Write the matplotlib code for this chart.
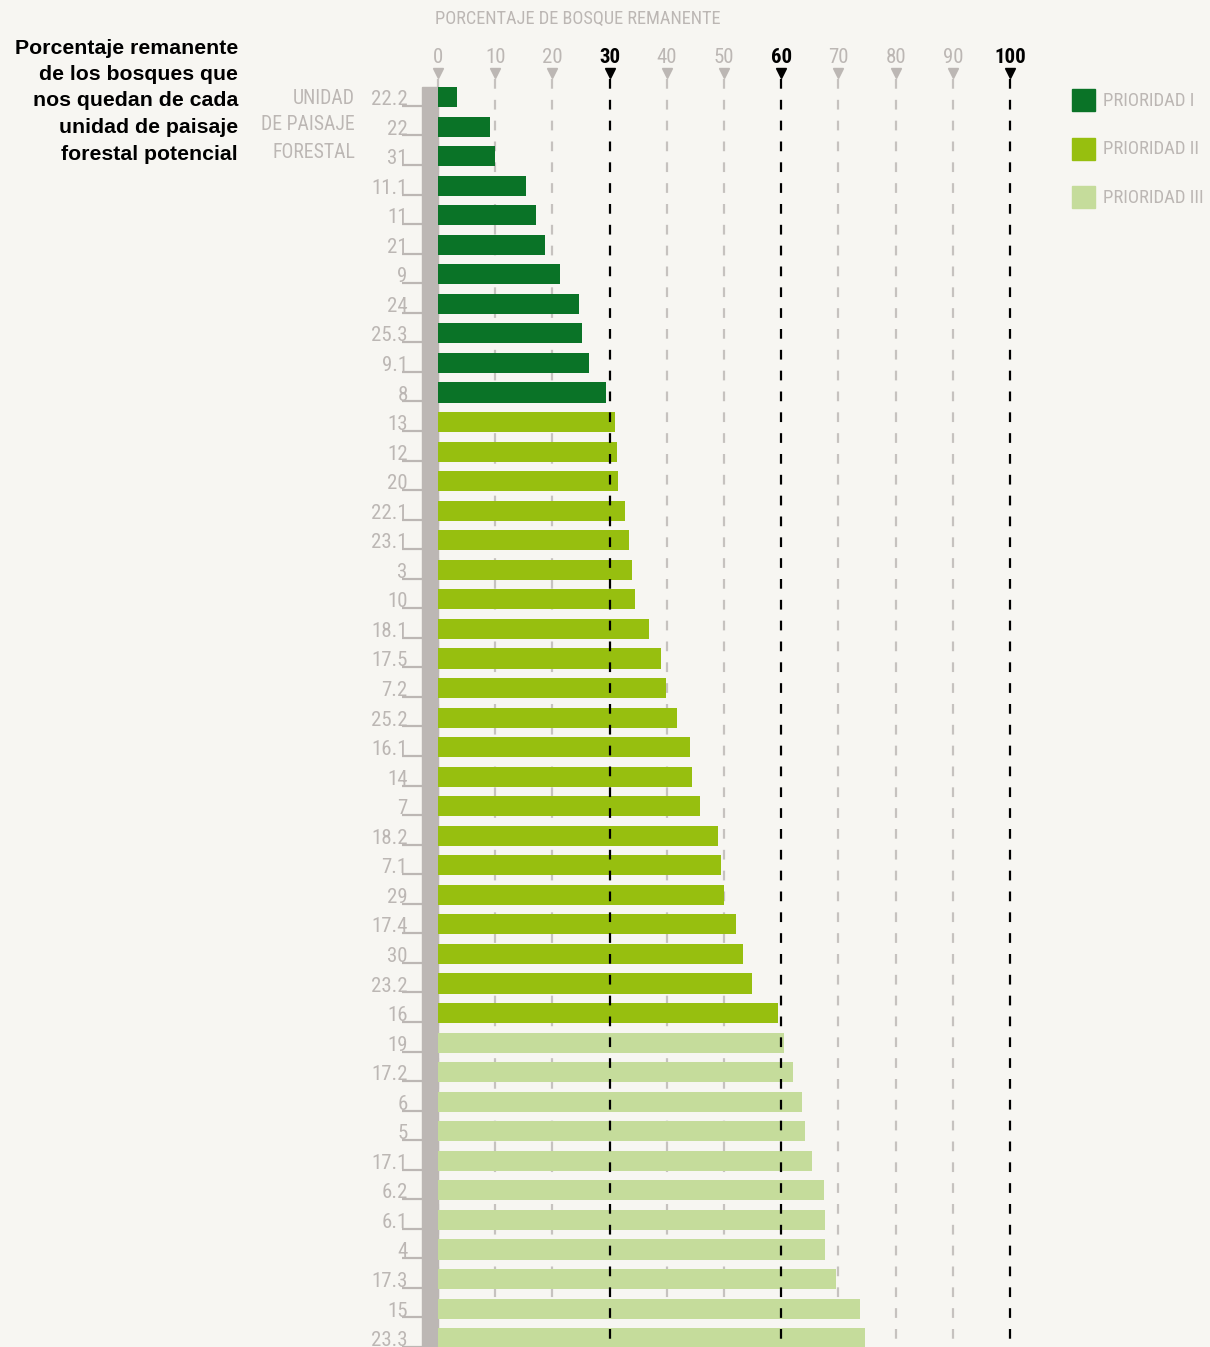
import matplotlib
matplotlib.use("Agg")
import matplotlib.pyplot as plt
from matplotlib.patches import Rectangle

# unidades de paisaje forestal y porcentaje de bosque remanente
unidades = ["22.2", "22", "31", "11.1", "11", "21", "9", "24", "25.3", "9.1", "8",
            "13", "12", "20", "22.1", "23.1", "3", "10", "18.1", "17.5", "7.2", "25.2",
            "16.1", "14", "7", "18.2", "7.1", "29", "17.4", "30", "23.2", "16",
            "19", "17.2", "6", "5", "17.1", "6.2", "6.1", "4", "17.3", "15", "23.3"]
remanente = [3.3, 9.1, 9.95, 15.4, 17.1, 18.7, 21.3, 24.6, 25.1, 26.4, 29.3,
             30.9, 31.3, 31.5, 32.7, 33.4, 33.9, 34.4, 36.9, 39.0, 39.9, 41.8,
             44.0, 44.4, 45.8, 49.0, 49.5, 50.0, 52.1, 53.3, 54.9, 59.4,
             60.5, 62.1, 63.6, 64.2, 65.4, 67.5, 67.7, 67.7, 69.6, 73.8, 74.7]
prioridad = (["I"] * 11) + (["II"] * 21) + (["III"] * 11)

niveles = ["I", "II", "III"]
colores = {"I": "#0a7327", "II": "#97bf0f", "III": "#c5dc9b"}
ticks = [0, 10, 20, 30, 40, 50, 60, 70, 80, 90, 100]
ticks_fuertes = [30, 60, 100]

BG = "#f7f6f2"
GRIS = "#bcb7b4"
# fuente condensada si existe; si no, DejaVu
COND = dict(family=["Roboto Condensed", "Open Sans Condensed", "Liberation Sans Narrow",
                    "DejaVu Sans"], fontstretch="condensed")
plt.rcParams["lines.scale_dashes"] = False

W, H = 1210, 1347
fig = plt.figure(figsize=(W / 100, H / 100), dpi=100, facecolor=BG)

def fx(px):
    return px / W

def fy(py):
    return 1 - py / H

# ejes: x=0 en px 438, 5.72 px por unidad
ax = fig.add_axes([fx(422), 0, fx(1010) - fx(422), fy(87)])
ax.set_facecolor(BG)
ax.set_xlim(-2.8, 100)
ax.set_ylim(42.3, -0.34)
ax.axis("off")

y = list(range(len(unidades)))

# rejilla gris (detrás) y líneas negras (encima)
for t in ticks:
    fuerte = t in ticks_fuertes
    ax.plot([t, t], [-0.62, 43], color="black" if fuerte else "#c6c2bf",
            lw=1.6, linestyle=(0, (7, 8)), clip_on=False,
            zorder=4 if fuerte else 1)
    ax.plot([t], [-0.82], marker="v", ms=7, color="black" if fuerte else GRIS,
            clip_on=False, zorder=4)
    ax.text(t, -1.33, str(t), ha="center", va="center", fontsize=15,
            color="black" if fuerte else GRIS,
            fontweight="bold" if fuerte else "normal", **COND)

ax.text(24.4, -2.64, "PORCENTAJE DE BOSQUE REMANENTE", ha="center", va="center",
        fontsize=13.2, color=GRIS, **COND)

# barra gris vertical
ax.add_patch(Rectangle((-2.8, -0.34), 2.75, 43, color=GRIS, zorder=2, clip_on=False))

# barras
ax.barh(y, remanente, height=0.68, left=0,
        color=[colores[p] for p in prioridad], zorder=3)

# etiquetas de unidad con subrayado
for i, u in enumerate(unidades):
    ax.text(-5.3, i + 0.27, u, ha="right", va="baseline", fontsize=15,
            color=GRIS, clip_on=False, **COND)
    ax.plot([-6.3, -2.8], [i + 0.3, i + 0.3], color=GRIS, lw=1.6,
            clip_on=False, solid_capstyle="butt")

for j, linea in enumerate(["UNIDAD", "DE PAISAJE", "FORESTAL"]):
    fig.text(fx(355), fy(98 + 27 * j), linea, ha="right", va="center",
             fontsize=14.2, color=GRIS, **COND)

# título a la izquierda
titulo = ["Porcentaje remanente", "de los bosques que", "nos quedan de cada",
          "unidad de paisaje", "forestal potencial"]
for j, linea in enumerate(titulo):
    fig.text(fx(238), fy(48 + 26.5 * j), linea, ha="right", va="center",
             fontsize=15.3, fontweight="bold", family="Liberation Sans",
             color="black")

# leyenda
for j, p in enumerate(niveles):
    yc = 100 + 48.5 * j
    fig.patches.append(Rectangle((fx(1072), fy(yc + 11)), fx(23), 22 / H,
                                 transform=fig.transFigure, color=colores[p]))
    fig.text(fx(1103), fy(yc + 1), "PRIORIDAD " + p, ha="left", va="center",
             fontsize=13.5, color=GRIS, **COND)

fig.savefig("out.png", dpi=100, facecolor=BG)
